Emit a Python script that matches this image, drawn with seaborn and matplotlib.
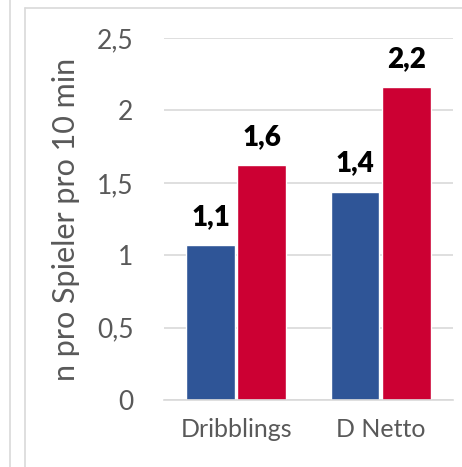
import pandas as pd
import seaborn as sns
import matplotlib.pyplot as plt
from matplotlib.lines import Line2D

#---------DATA
categories = ["Dribblings", "D Netto"]
series_names = ["A", "B"]
values_a = [1.07, 1.44]
values_b = [1.62, 2.16]
labels_a = ["1,1", "1,4"]
labels_b = ["1,6", "2,2"]
yticks = [0, 0.5, 1, 1.5, 2, 2.5]
ytick_labels = ["0", "0,5", "1", "1,5", "2", "2,5"]

df = pd.DataFrame({
    "cat": categories * 2,
    "series": [series_names[0]] * 2 + [series_names[1]] * 2,
    "val": values_a + values_b,
})

#---------PLOT
sns.set_theme(style="white")
plt.rcParams['font.family'] = ['Lato', 'DejaVu Sans']

fig = plt.figure(figsize=(4.62, 4.67), dpi=100, facecolor="white")
ax = fig.add_axes([0.355, 0.1435, 0.625, 0.775])

sns.barplot(data=df, x="cat", y="val", hue="series", order=categories,
            hue_order=series_names, palette=["#2F5597", "#CC0033"],
            saturation=1, width=0.71, gap=0.05, ax=ax, legend=False,
            errorbar=None)

ax.set_ylim(0, 2.5)
ax.set_xlim(-0.5, 1.5)
ax.set_yticks(yticks)
ax.set_yticklabels(ytick_labels)
ax.yaxis.grid(True, color="#D9D9D9", linewidth=1.2)
ax.set_axisbelow(True)
for s in ["top", "right", "left"]:
    ax.spines[s].set_visible(False)
ax.spines["bottom"].set_color("#D9D9D9")
ax.spines["bottom"].set_linewidth(1.2)
ax.tick_params(axis="y", length=0, pad=22, labelsize=19, labelcolor="#595959")
ax.tick_params(axis="x", length=0, pad=13, labelsize=18, labelcolor="#595959")
ax.set_xlabel("")
ax.set_ylabel("n pro Spieler pro 10 min", fontsize=22, color="#595959")
ax.yaxis.set_label_coords(-0.29, 0.5)

for container, labs in zip(ax.containers, [labels_a, labels_b]):
    ax.bar_label(container, labels=labs, padding=11, fontsize=20,
                 fontweight="heavy", color="black")

# frame lines of the surrounding sheet
fig.add_artist(Line2D([10 / 462, 10 / 462], [0, 1], color="#D9D9D9", lw=1.2))
fig.add_artist(Line2D([25 / 462, 25 / 462], [0, 1 - 8 / 467], color="#D9D9D9", lw=1.2))
fig.add_artist(Line2D([25 / 462, 1], [1 - 8 / 467, 1 - 8 / 467], color="#D9D9D9", lw=1.2))

fig.savefig("out.png", dpi=100, facecolor="white")
